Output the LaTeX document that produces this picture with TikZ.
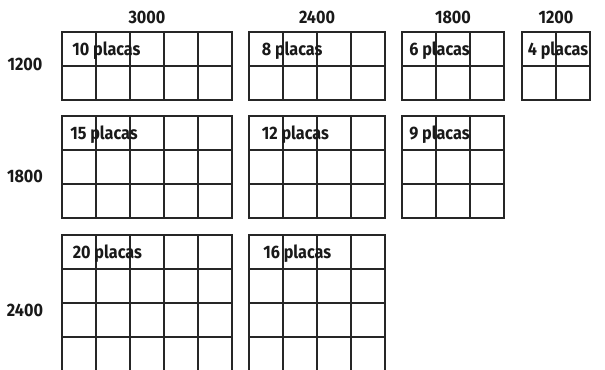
\documentclass[tikz,border=0pt]{standalone}
\usepackage{fontspec}
\setmainfont{Fira Sans}[FakeStretch=0.9]
\usepackage{tikz}
\usetikzlibrary{positioning}

\begin{document}
\begin{tikzpicture}[
    x=0.75pt, y=-0.75pt,
    cell/.style={draw=black!85, line width=1.5pt},
    label/.style={font=\bfseries\fontsize{13.5}{15}\selectfont, text=black!90, inner sep=0pt},
    dim/.style={label}
]

    % Dimensione di una piastrella (in px)
    \def\c{34}

    \useasboundingbox (0,0) rectangle (605,370);
    \clip (0,0) rectangle (605,370);

    % Etichette delle colonne
    \node[dim] (c3000) at (147,17) {3000};
    \node[dim] (c2400) at (317,17) {2400};
    \node[dim] (c1800) at (453,17) {1800};
    \node[dim] (c1200) at (556,17) {1200};

    % Etichette delle righe
    \node[dim] (r1200) at (25,64) {1200};
    \node[dim] (r1800) at (25,176) {1800};
    \node[dim] (r2400) at (25,310.5) {2400};

    % Griglie: x, y, colonne, righe, nome, scostamento del testo
    \foreach \x/\y/\nc/\nr/\n/\o in {
        62/32/5/2/10/10, 249/32/4/2/8/12.5, 402/32/3/2/6/7, 521.5/32/2/2/4/6,
        62/116/5/3/15/8, 249/116/4/3/12/12.5, 402/116/3/3/9/7,
        62/235/5/4/20/10.5, 249/235/4/4/16/14}{
        \foreach \i in {1,...,\nc}{
            \foreach \j in {1,...,\nr}{
                \draw[cell] ({\x+(\i-1)*\c},{\y+(\j-1)*\c}) rectangle ++(\c,\c);
            }
        }
        \node[label, anchor=west] (p\n) at ({\x+\o},{\y+\c/2+1.5}) {\n{} placas};
    }

\end{tikzpicture}
\end{document}
